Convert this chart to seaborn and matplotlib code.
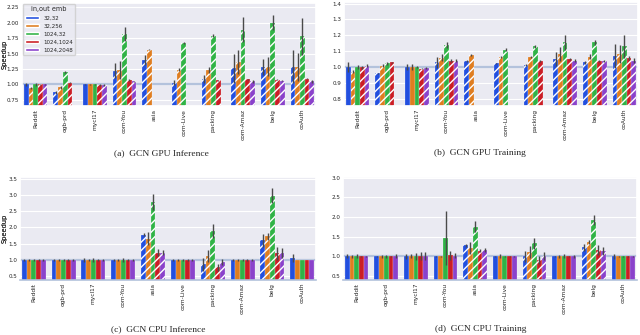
import numpy as np
import pandas as pd
import matplotlib
matplotlib.use("Agg")
import matplotlib.pyplot as plt
from matplotlib.container import BarContainer
import seaborn as sns

datasets = ["Reddit", "ogb-prd", "mycl17", "com-You", "asia", "com-Live",
            "packing", "com-Amaz", "belg", "coAuth"]
emb = ["32,32", "32,256", "1024,32", "1024,1024", "1024,2048"]
N = None

# (a) GCN GPU Inference
gpu_inf = [[1.00, 0.94, 1.00, 1.00, 1.00],
           [0.87, 0.95, 1.20, 1.03, N],
           [1.00, 1.00, 1.00, 0.99, 0.99],
           [1.22, 1.23, 1.82, 1.07, 1.05],
           [1.39, 1.56, N, N, N],
           [1.03, 1.24, 1.67, N, N],
           [1.09, 1.23, 1.79, 1.065, N],
           [1.26, 1.36, 1.89, 1.08, 1.05],
           [1.28, 1.29, 2.00, 1.075, 1.06],
           [1.29, 1.28, 1.78, 1.09, 1.05]]
gpu_inf_err = [[0.03, 0.02, 0.02, 0.01, 0.01],
               [0.02, 0.02, 0.02, 0.01, N],
               [0.01, 0.01, 0.01, 0.01, 0.01],
               [0.12, 0.15, 0.11, 0.01, 0.01],
               [0.08, 0.01, N, N, N],
               [0.04, 0.02, 0.02, N, N],
               [0.07, 0.05, 0.02, 0.01, N],
               [0.24, 0.19, 0.20, 0.01, 0.02],
               [0.13, 0.15, 0.12, 0.01, 0.01],
               [0.27, 0.23, 0.30, 0.01, 0.02]]
gpu_inf_sig = [[0, 1, 0, 1, 1], [1, 1, 1, 1, 0], [0, 0, 0, 1, 1]] + [[1] * 5] * 7

# (b) GCN GPU Training
gpu_tr = [[1.00, 0.97, 1.00, 1.00, 1.01],
          [0.96, 1.01, 1.023, 1.03, N],
          [1.00, 1.00, 1.00, 0.99, 0.995],
          [1.03, 1.06, 1.14, 1.04, 1.04],
          [1.04, 1.077, N, N, N],
          [1.023, 1.065, 1.11, N, N],
          [1.015, 1.063, 1.13, 1.04, N],
          [1.05, 1.083, 1.155, 1.05, 1.04],
          [1.03, 1.065, 1.157, 1.04, 1.04],
          [1.07, 1.083, 1.13, 1.057, 1.04]]
gpu_tr_err = [[0.03, 0.01, 0.015, 0.01, 0.01],
              [0.005, 0.01, 0.008, 0.005, N],
              [0.018, 0.018, 0.005, 0.005, 0.005],
              [0.035, 0.02, 0.02, 0.008, 0.008],
              [0.005, 0.005, N, N, N],
              [0.005, 0.005, 0.01, N, N],
              [0.005, 0.008, 0.01, 0.005, N],
              [0.045, 0.045, 0.045, 0.005, 0.008],
              [0.01, 0.015, 0.015, 0.005, 0.005],
              [0.075, 0.055, 0.075, 0.015, 0.015]]
gpu_tr_sig = [[0, 1, 0, 1, 1], [1, 1, 1, 1, 0], [0, 0, 0, 1, 1]] + [[1] * 5] * 7

# (c) GCN CPU Inference
cpu_inf = [[1.0] * 5, [1.0] * 5, [1.0] * 5, [1.0] * 5,
           [1.78, 1.65, 2.79, 1.22, 1.22],
           [1.0] * 5,
           [0.86, 1.12, 1.89, 0.77, 0.93],
           [1.0] * 5,
           [1.60, 1.72, 2.97, 1.20, 1.20],
           [1.05, 1.0, 1.0, 1.0, 1.0]]
cpu_inf_err = [[0.04, 0.04, 0.04, 0.02, 0.02],
               [0.02, 0.02, 0.02, 0.02, 0.02],
               [0.06, 0.02, 0.07, 0.02, 0.02],
               [0.03, 0.02, 0.06, 0.04, 0.04],
               [0.05, 0.20, 0.25, 0.10, 0.08],
               [0.02, 0.04, 0.02, 0.02, 0.02],
               [0.20, 0.18, 0.22, 0.10, 0.10],
               [0.02, 0.02, 0.02, 0.02, 0.02],
               [0.20, 0.10, 0.23, 0.20, 0.15],
               [0.12, 0.01, 0.01, 0.01, 0.01]]
cpu_inf_sig = [[0] * 5] * 4 + [[1] * 5] + [[0] * 5] + [[1] * 5] + [[0] * 5] + [[1] * 5] + [[0] * 5]

# (d) GCN CPU Training
cpu_tr = [[1.0] * 5, [1.0] * 5, [1.0] * 5,
          [1.0, 1.0, 1.47, 1.03, 1.02],
          [1.28, 1.22, 1.76, 1.15, 1.16],
          [1.0] * 5,
          [1.0, 1.12, 1.33, 0.90, 1.02],
          [1.0] * 5,
          [1.23, 1.37, 1.93, 1.16, 1.14],
          [1.0] * 5]
cpu_tr_err = [[0.05, 0.04, 0.05, 0.02, 0.02],
              [0.02, 0.04, 0.03, 0.02, 0.05],
              [0.06, 0.05, 0.08, 0.10, 0.10],
              [0.02, 0.02, 0.68, 0.12, 0.06],
              [0.04, 0.15, 0.15, 0.05, 0.05],
              [0.02, 0.05, 0.02, 0.02, 0.02],
              [0.13, 0.15, 0.15, 0.10, 0.10],
              [0.02, 0.03, 0.05, 0.02, 0.04],
              [0.08, 0.06, 0.12, 0.12, 0.10],
              [0.07, 0.02, 0.02, 0.02, 0.02]]
cpu_tr_sig = [[0] * 5] * 4 + [[1] * 5] + [[0] * 5] + [[1] * 5] + [[0] * 5] + [[1] * 5] + [[0] * 5]

captions = ["(a)  GCN GPU Inference", "(b)  GCN GPU Training",
            "(c)  GCN CPU Inference", "(d)  GCN CPU Training"]

sns.set_theme(style="darkgrid")
plt.rcParams["hatch.linewidth"] = 1.0
plt.rcParams["hatch.color"] = "white"

fig = plt.figure(figsize=(6.4, 3.35), dpi=100)

panels = [
    (gpu_inf, gpu_inf_err, gpu_inf_sig, [22 / 640, 1 - 106 / 335, 294 / 640, 103 / 335],
     (0.65, 2.32), [0.75, 1.0, 1.25, 1.5, 1.75, 2.0, 2.25], True, (161, 153), False),
    (gpu_tr, gpu_tr_err, gpu_tr_sig, [344 / 640, 1 - 106 / 335, 294 / 640, 104 / 335],
     (0.755, 1.41), [0.8, 0.9, 1.0, 1.1, 1.2, 1.3, 1.4], False, (480, 153), False),
    (cpu_inf, cpu_inf_err, cpu_inf_sig, [20 / 640, 1 - 280 / 335, 296 / 640, 103 / 335],
     (0.38, 3.55), [0.5, 1.0, 1.5, 2.0, 2.5, 3.0, 3.5], False, (158, 329), True),
    (cpu_tr, cpu_tr_err, cpu_tr_sig, [343 / 640, 1 - 280 / 335, 294 / 640, 103 / 335],
     (0.4, 3.02), [0.5, 1.0, 1.5, 2.0, 2.5, 3.0], False, (481, 329), True),
]

for k, (vals, errs, sig, rect, ylim, yticks, leg, cap, bline) in enumerate(panels):
    rows = []
    for i, d in enumerate(datasets):
        for j, e in enumerate(emb):
            if vals[i][j] is not None:
                rows.append({"dataset": d, "emb": e, "speedup": vals[i][j]})
    df = pd.DataFrame(rows)
    ax = fig.add_axes(rect)
    sns.barplot(data=df, x="dataset", y="speedup", hue="emb", order=datasets,
                hue_order=emb, palette="bright", errorbar=None, ax=ax,
                legend=leg, width=0.8, dodge=True)
    ax.axhline(1.0, color="#b3c2dc", lw=1.6, zorder=0.8)
    bar_conts = [c for c in ax.containers if isinstance(c, BarContainer)]
    for j, cont in enumerate(bar_conts):
        for p in list(cont.patches):
            xc = p.get_x() + p.get_width() / 2
            i = int(round(xc))
            p.set_edgecolor("white")
            p.set_linewidth(0.15)
            if sig[i][j]:
                p.set_hatch("////")
            er = errs[i][j]
            if er is not None:
                ax.errorbar(xc, vals[i][j], yerr=er, fmt="none",
                            ecolor="#4a4a4a", elinewidth=1.0, capsize=0, zorder=3)
    ax.set_xlim(-0.46, len(datasets) - 0.54)
    ax.set_ylim(*ylim)
    ax.set_yticks(yticks)
    ax.set_xlabel("")
    ax.set_ylabel("Speedup", fontsize=4.8)
    ax.yaxis.set_label_coords(-(rect[0] * 640 - 8) / (rect[2] * 640), 0.5)
    ax.tick_params(axis="both", length=0)
    ax.tick_params(axis="y", labelsize=4.1, pad=2)
    ax.tick_params(axis="x", labelsize=4.2, pad=2, rotation=90)
    ax.grid(True, axis="y", color="white", lw=0.8)
    if bline:
        ax.spines["bottom"].set_visible(True)
        ax.spines["bottom"].set_color("#b3c2dc")
        ax.spines["bottom"].set_linewidth(1.2)
    if leg:
        lg = ax.legend(title="in,out emb", loc="upper left", fontsize=4.0,
                       title_fontsize=4.7, borderpad=0.45, labelspacing=0.55,
                       handlelength=2.4, handleheight=0.6, borderaxespad=0.15,
                       framealpha=0.8)
    fig.text(cap[0] / 640, 1 - cap[1] / 335, captions[k], ha="center",
             va="center", fontsize=6.8, family="Liberation Serif")

fig.savefig("out.png", dpi=100)
